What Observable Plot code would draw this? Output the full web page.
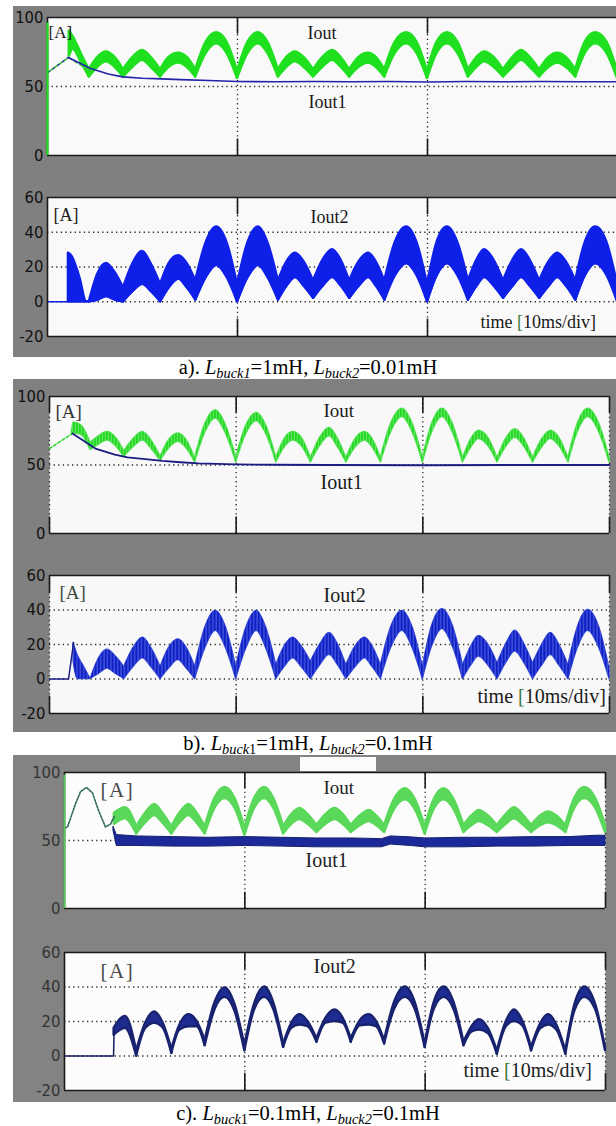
<!DOCTYPE html>
<html>
<head>
<meta charset="utf-8">
<script src="https://cdn.jsdelivr.net/npm/d3@7"></script>
<script src="https://cdn.jsdelivr.net/npm/@observablehq/plot@0.6"></script>
<style>
  html, body { margin: 0; padding: 0; background: #fff; }
  #root { position: relative; width: 616px; height: 1126px; overflow: hidden; background: #fff; }
  .blk { position: absolute; }
  .cap { position: absolute; left: 0; width: 616px; text-align: center; font-family: "Liberation Serif", "Times New Roman", serif; font-size: 20.5px; line-height: 20px; color: #000; white-space: nowrap; }
  .cap sub { font-size: 0.7em; vertical-align: -0.3em; line-height: 0; }
</style>
</head>
<body>
<div id="root"></div>
<script>
// ---------------- DATA (time in ms, 10 ms per division; currents in A) ----------------
// shared vertex times of the rectified-sine humps: trough, shoulder, peak, shoulder, ...
const humpT = [2.2,2.65,3.1,3.55, 4.0,4.5,5.0,5.45, 5.95,6.4,6.9,7.35, 7.8,8.35,8.9,9.45,
  10.0,10.55,11.1,11.6, 12.15,12.6,13.05,13.5, 14.0,14.5,15.0,15.45, 15.9,16.4,16.9,17.3,
  17.75,18.3,18.9,19.45, 20.0,20.5,21.05,21.6, 22.15,22.6,23.0,23.5, 24.0,24.5,24.95,25.4,
  25.9,26.4,26.85,27.3, 27.8,28.3,28.85,29.45, 30.0];

const yTicksTop = [0, 50, 100];
const yTicksBottom = [-20, 0, 20, 40, 60];

// a) Lbuck1 = 1 mH, Lbuck2 = 0.01 mH
const aIoutPreT = [1.15, 1.35, 1.8], aIoutPreHi = [90, 86, 73], aIoutPreLo = [72, 77, 67];
const aIoutHi = [62,71,75,71, 62,71,76,71, 62,71,74,71, 62,82,89,82, 61,82,89,82, 62,71,75,71, 62,71,76,71,
  62,71,74,71, 62,82,89,82, 61,82,89,82, 62,71,75,71, 62,71,76,71, 62,71,74,71, 62,82,89,82, 61];
const aIoutLo = [57,64,68,64, 57,64,69,64, 57,64,67,64, 57,74,81,74, 56,74,81,74, 57,64,68,64, 57,64,69,64,
  57,64,67,64, 57,74,81,74, 56,74,81,74, 57,64,68,64, 57,64,69,64, 57,64,67,64, 57,74,81,74, 56];
const aStartT = [0, 1.1], aStartV = [60, 71];
const aGreenStartT = [0, 1.1, 2.27], aGreenStartV = [60, 71, 61];
const aIout1T = [1.1, 2.27, 3.2, 3.95, 5, 6, 7, 8.5, 10, 12, 14, 16, 18, 20, 22, 24, 26, 28, 30];
const aIout1V = [71, 63, 59, 57, 56, 55.5, 55, 54.3, 53.6, 53.4, 53.6, 53.4, 53.6, 53.3, 53.6, 53.4, 53.6, 53.4, 53.5];
const aI2StartT = [0, 1.1, 1.1], aI2StartV = [0, 0, 28];
const aI2PreT = [1.1, 1.3, 1.7, 2.06], aI2PreHi = [28, 26, 14, 0], aI2PreLo = [0, 0, 0, 0];
const aI2Hi = [0,16,22,17, 8,22,29,22, 10,22,26.5,22, 12,34,43,34, 10,34,43,34, 12,23,28,23, 12,24,30,24,
  12,23,28,23, 12,34,43,34, 10,34,43,34, 12,24,30,24, 12,24,30,24, 12,23,28,23, 12,34,43,34, 10];
const aI2Lo = [0,1,3,1, 0,6,10,6, 0,8,13,8, 1,14,21,14, 0,14,21,14, 1,9,14,9, 2,9,14,9,
  2,9,14,9, 1,15,22,15, 0,15,22,15, 1,9,14,9, 2,9,14,9, 2,9,14,9, 1,15,22,15, 0];

// b) Lbuck1 = 1 mH, Lbuck2 = 0.1 mH
const bIoutPreT = [1.2, 1.3, 1.7], bIoutPreHi = [74, 81, 79], bIoutPreLo = [72, 73, 72];
const bIoutHi = [66,71,74,70, 60,69,74,68, 56,68,73,68, 55,80,90,79, 55,79,88,79, 55,69,74,70, 55,70,77,69,
  55,69,74,69, 55,80,91,80, 55,80,91,80, 55,69,75,70, 55,70,76,70, 55,69,75,70, 55,80,91,80, 55];
const bIoutLo = [61,65,68,64, 56,63,68,62, 53,62,67,62, 52,74,84,73, 52,73,82,73, 52,63,68,64, 52,64,71,63,
  52,63,68,63, 52,74,85,74, 52,74,85,74, 52,63,69,64, 52,64,70,64, 52,63,69,64, 52,74,85,74, 52];
const bStartT = [0, 1.23], bStartV = [62, 73];
const bIout1T = [1.23, 2.46, 3.5, 4.18, 5, 6.05, 7, 8, 9, 10, 12, 15, 20, 25, 30];
const bIout1V = [73, 62, 57.5, 55.5, 54.5, 53, 52, 51.2, 50.8, 50.4, 50.2, 50, 49.8, 50, 50];
const bI2StartT = [0, 1.02, 1.29], bI2StartV = [0, 0, 21];
const bI2PreT = [1.29, 1.5, 1.8], bI2PreHi = [21, 14, 8], bI2PreLo = [10, 0, 0];
const bI2Hi = [0,12,17,13, 7,18,24,18, 7,18,23,18, 7,30,39.5,30, 7,30,39.5,30, 8,19,24,19, 10,20,26.7,20,
  8,19,24,19, 8,30,39.5,30, 7,31,40.5,31, 8,19,25,20, 9,21,28,21, 9,20,26.7,20, 8,30,40,30, 6];
const bI2Lo = [0,3,6,3, 0,7,12,7, 0,6,11,6, 0,18,28,18, 0,18,28,18, 0,7,12,7, 0,8,14,8,
  0,7,12,7, 0,18,28,18, 0,19,29,19, 0,8,13,8, 0,10,16,10, 0,8,14,8, 0,18,28,18, 0];

// c) Lbuck1 = 0.1 mH, Lbuck2 = 0.1 mH
const cStartT = [0, 0.17, 0.61, 0.89, 1.22, 1.55, 1.89, 2.27, 2.55, 2.77];
const cStartV = [59, 60, 77, 86, 89, 85, 72, 60, 62, 68];
const cIoutPreT = [2.77, 3.38], cIoutPreHi = [70, 74], cIoutPreLo = [62, 66];
const cIoutHi = [60,70,76.5,70, 60,70,76.5,70, 60,81,89,81, 59,81,89,81, 60,69,73.5,69, 61,69,73.5,69,
  61,68,72,68, 61,80,88,80, 60,80,88,80, 61,68,72,68, 61,69,74,69, 61,68,71,68, 61,81,89,81, 61];
const cIoutLo = [55,63,68.5,63, 55,63,68.5,63, 55,74,81,74, 54,74,81,74, 55,62,65.5,62, 56,62,65.5,62,
  56,61,64,61, 56,73,80,73, 55,73,80,73, 56,61,64,61, 56,62,66,62, 56,61,63,61, 56,74,81,74, 56];
const cIout1T = [2.72, 2.9, 4, 6, 8, 10, 12, 14, 16, 17.6, 18.1, 19.2, 20, 22, 24, 26, 28, 29.5, 30];
const cIout1Hi = [60, 54, 53, 52.5, 52, 52.5, 52, 51.5, 51.5, 51, 53, 52.3, 51.5, 52, 52, 52.5, 52.5, 53.5, 53.5];
const cIout1Lo = [57, 46, 46, 45.5, 45.5, 46, 45.5, 45, 45, 45, 47, 46, 45, 45, 45.5, 45.5, 46, 46, 46];
const cI2StartT = [0, 2.72, 2.75], cI2StartV = [0, 0, 14];
const cI2PreT = [2.75, 3.38], cI2PreHi = [16, 23], cI2PreLo = [12, 16];
const cI2Hi = [3,19,25.5,19.5, 4,18,24,20, 9,31,39.5,30, 6,30.5,40,31, 7,19,24,20, 10,22,26.7,22,
  10,20.5,24,20, 9,31,40,31, 7,31,40,31, 8,17,21,16, 3,20,26.7,20.6, 5,18.7,24,18, 3,29.6,40,30, 5];
const cI2Lo = [0,16,19,16.5, 1.5,15,17,17, 6,27,34,26, 3,27,34,27, 5,16,18,17, 8,19,20,19,
  8,17.5,18,17, 7,27,34,27, 5,27,34,27, 6,14,15,13, 1,17,20,17.6, 3,15.7,18,15, 1,26,34,27, 3];

// ---------------- helpers ----------------
const serif = `"Liberation Serif", "Times New Roman", serif`;
const narrow = `"Liberation Sans Narrow", "Arial Narrow", "DejaVu Sans Condensed", sans-serif`;
const NS = "http://www.w3.org/2000/svg";
const root = document.getElementById("root");

function rows(t, v) { return t.map((x, i) => ({t: x, v: v[i]})); }
// split the envelope into one piece per hump so each hump is drawn as its own arch
function band(preT, preHi, preLo, start, hi, lo) {
  const g = humpT.slice(start);
  const out = preT.map((t, i) => ({t, hi: preHi[i], lo: preLo[i], z: -1}));
  out.push({t: g[0], hi: hi[0], lo: lo[0], z: -1});
  for (let k = 0; k + 4 < g.length; k += 4)
    for (let j = 0; j <= 4; j++) out.push({t: g[k + j], hi: hi[k + j], lo: lo[k + j], z: k});
  return out;
}
function bandRows(t, hi, lo) { return t.map((x, i) => ({t: x, hi: hi[i], lo: lo[i]})); }
function label(text, dx, dy, size, fill = "#1a1a1a") {
  return Plot.text([text], {text: d => d, frameAnchor: "top-left", dx, dy, textAnchor: "start",
    lineAnchor: "bottom", fontFamily: serif, fontSize: size, fill});
}
const DOT = {stroke: "#2a2a2a", strokeWidth: 1.3, strokeDasharray: "1.3 3.3"};
const SOLID = {stroke: "#1a1a1a", strokeWidth: 1.6};
const ARCH = {x: "t", y1: "lo", y2: "hi", z: "z", curve: "monotone-x"};

function gridMarks(yd, hLines, vLines) {
  const [y0, y1] = yd;
  return [Plot.ruleY(hLines, DOT), Plot.ruleX(vLines, {y1: y0, y2: y1, ...DOT})];
}
function borderMarks(yd, vLines, tickLen, leftSolid) {
  const [y0, y1] = yd;
  const m = [
    Plot.ruleY([y1], SOLID),
    Plot.ruleY([y0], SOLID),
    Plot.ruleX(vLines, {y1: y1, y2: y1 - tickLen, ...SOLID}),
    Plot.ruleX(vLines, {y1: y0, y2: y0 + tickLen, ...SOLID}),
  ];
  if (leftSolid) m.push(Plot.ruleX([0], {y1: y0, y2: y1, ...SOLID}));
  return m;
}

function block(l, t, w, h, bg) {
  const d = document.createElement("div");
  d.className = "blk";
  Object.assign(d.style, {left: l + "px", top: t + "px", width: w + "px", height: h + "px", background: bg});
  root.appendChild(d);
}
function caption(html, top) {
  const d = document.createElement("div");
  d.className = "cap";
  d.style.top = top + "px";
  d.innerHTML = html;
  root.appendChild(d);
}
function panel({L, T, R, B, yd, yt, marks, tickColor = "#111", defs = "", bracketSpacing = 0}) {
  const mt = 10, mb = 10;
  const width = Math.max(603, R + 1 - 13);
  const svg = Plot.plot({
    width, height: B - T + mt + mb,
    marginLeft: L - 13, marginRight: width - (R - 13), marginTop: mt, marginBottom: mb,
    x: {domain: [0, 30], axis: null},
    y: {domain: yd, ticks: yt, tickSize: 0, tickPadding: 4, label: null, tickFormat: d => String(d)},
    style: {background: "transparent", fontFamily: narrow, fontSize: "16.5px", color: tickColor, overflow: "visible", fontStretch: "condensed"},
    marks
  });
  if (defs) {
    const d = document.createElementNS(NS, "defs");
    d.innerHTML = defs;
    svg.insertBefore(d, svg.firstChild);
  }
  svg.querySelectorAll("text").forEach(el => {
    if (el.textContent === "time [10ms/div]") {
      el.textContent = "";
      for (const [s, c] of [["time ", null], ["[", "#3d7a3d"], ["10ms/div]", null]]) {
        const ts = document.createElementNS(NS, "tspan");
        ts.textContent = s;
        if (c) ts.setAttribute("fill", c);
        el.appendChild(ts);
      }
    }
    if (el.textContent === "[A]" && bracketSpacing) el.setAttribute("letter-spacing", bracketSpacing);
  });
  Object.assign(svg.style, {position: "absolute", left: "13px", top: (T - mt) + "px"});
  root.appendChild(svg);
}

// ---------------- backgrounds ----------------
block(13, 6, 603, 351, "#808080");
block(13, 379, 603, 353, "#808080");
block(13, 755, 603, 347, "#838383");
block(300, 757, 76, 14, "#fbfbfb");

// ---------------- a) ----------------
const GA = "#1fe01f", BA = "#0e20e8", BA1 = "#2323a8";
const aIoutRows = band(aIoutPreT, aIoutPreHi, aIoutPreLo, 0, aIoutHi, aIoutLo);
const aI2Rows = band(aI2PreT, aI2PreHi, aI2PreLo, 0, aI2Hi, aI2Lo);
panel({L: 47, T: 17, R: 617, B: 155, yd: [0, 100], yt: yTicksTop, marks: [
  Plot.frame({fill: "#f9f9f9", stroke: "none"}),
  ...gridMarks([0, 100], [50], [10, 20]),
  Plot.areaY(aIoutRows, {...ARCH, fill: GA, stroke: GA, strokeWidth: 2.6, strokeLinejoin: "round"}),
  Plot.line(rows(aStartT, aStartV), {x: "t", y: "v", stroke: BA1, strokeWidth: 1.6, strokeDasharray: "3 3"}),
  Plot.line(rows(aGreenStartT, aGreenStartV), {x: "t", y: "v", stroke: "#3fbf3f", strokeWidth: 1.5, strokeDasharray: "3 3", strokeDashoffset: 3}),
  Plot.line(rows(aIout1T, aIout1V), {x: "t", y: "v", stroke: BA1, strokeWidth: 1.6}),
  ...borderMarks([0, 100], [10, 20], 12, true),
  Plot.ruleX([0], {y1: 0, y2: 96, stroke: GA, strokeWidth: 2.2}),
  label("[A]", 1, 20, 17),
  label("Iout", 260, 21, 18),
  label("Iout1", 261, 90, 18)
]});
panel({L: 47, T: 197, R: 617, B: 336, yd: [-20, 60], yt: yTicksBottom, marks: [
  Plot.frame({fill: "#f9f9f9", stroke: "none"}),
  ...gridMarks([-20, 60], [40, 20, 0], [10, 20]),
  Plot.areaY(aI2Rows, {...ARCH, fill: BA, stroke: BA, strokeWidth: 2.4, strokeLinejoin: "round"}),
  Plot.line(aI2Rows, {x: "t", y: "lo", z: "z", curve: "monotone-x", stroke: BA, strokeWidth: 1.3}),
  Plot.line(rows(aI2StartT, aI2StartV), {x: "t", y: "v", stroke: BA, strokeWidth: 1.5}),
  ...borderMarks([-20, 60], [10, 20], 10, true),
  label("[A]", 6, 23, 18),
  label("Iout2", 263, 25, 18),
  label("time [10ms/div]", 433, 130, 18)
]});

// ---------------- b) ----------------
const GB = "#22d822", BB = "#0f1fc6", BB1 = "#1c1c84";
const stripes = (p) => `<pattern id="${p}G" width="3" height="10" patternUnits="userSpaceOnUse"><rect width="1.8" height="10" fill="${GB}"/></pattern>
<pattern id="${p}B" width="3.4" height="10" patternUnits="userSpaceOnUse"><rect width="2" height="10" fill="${BB}"/></pattern>`;
const bIoutRows = band(bIoutPreT, bIoutPreHi, bIoutPreLo, 0, bIoutHi, bIoutLo);
const bI2Rows = band(bI2PreT, bI2PreHi, bI2PreLo, 0, bI2Hi, bI2Lo);
panel({L: 49, T: 396, R: 609, B: 533, yd: [0, 100], yt: yTicksTop, defs: stripes("s1"), marks: [
  Plot.frame({fill: "#f8f8f8", stroke: "none"}),
  ...gridMarks([0, 100], [50], [0, 10, 20, 30]),
  Plot.areaY(bIoutRows, {...ARCH, fill: "#5fe45f", stroke: "#5fe45f", strokeWidth: 1.6}),
  Plot.areaY(bIoutRows, {...ARCH, fill: "url(#s1G)"}),
  Plot.line(rows(bStartT, bStartV), {x: "t", y: "v", stroke: GB, strokeWidth: 1.4, strokeDasharray: "3 2"}),
  Plot.line(rows(bIout1T, bIout1V), {x: "t", y: "v", stroke: BB1, strokeWidth: 1.8}),
  ...borderMarks([0, 100], [0, 10, 20, 30], 12, false),
  label("[A]", 6, 21, 19, "#333"),
  label("Iout", 274, 20, 19),
  label("Iout1", 271, 92, 20)
]});
panel({L: 49, T: 575, R: 609, B: 713, yd: [-20, 60], yt: yTicksBottom, defs: stripes("s2"), marks: [
  Plot.frame({fill: "#f8f8f8", stroke: "none"}),
  ...gridMarks([-20, 60], [40, 20, 0], [0, 10, 20, 30]),
  Plot.areaY(bI2Rows, {...ARCH, fill: "#3f52d8", stroke: "#3f52d8", strokeWidth: 1.4}),
  Plot.areaY(bI2Rows, {...ARCH, fill: "url(#s2B)"}),
  Plot.line(rows(bI2StartT, bI2StartV), {x: "t", y: "v", stroke: BB1, strokeWidth: 1.5}),
  ...borderMarks([-20, 60], [0, 10, 20, 30], 10, false),
  label("[A]", 10, 23, 19, "#3b4a3b"),
  label("Iout2", 274, 26, 20),
  label("time [10ms/div]", 428, 127, 20)
]});

// ---------------- c) ----------------
const GC = "#5ad85a", BC = "#1b2a98", BC2 = "#1e2c92";
const cIoutRows = band(cIoutPreT, cIoutPreHi, cIoutPreLo, 4, cIoutHi, cIoutLo);
const cI2Rows = band(cI2PreT, cI2PreHi, cI2PreLo, 4, cI2Hi, cI2Lo);
panel({L: 64, T: 772, R: 605, B: 908, yd: [0, 100], yt: yTicksTop, tickColor: "#333", bracketSpacing: 1.5, marks: [
  Plot.frame({fill: "#fcfcfc", stroke: "none"}),
  ...gridMarks([0, 100], [50], [10, 20, 30]),
  Plot.areaY(cIoutRows, {...ARCH, fill: GC, stroke: GC, strokeWidth: 2.6, strokeLinejoin: "round"}),
  Plot.areaY(bandRows(cIout1T, cIout1Hi, cIout1Lo), {x: "t", y1: "lo", y2: "hi", fill: BC, stroke: "#14206e", strokeWidth: 1}),
  Plot.line(rows(cStartT, cStartV), {x: "t", y: "v", stroke: "#2e6a5e", strokeWidth: 1.6, strokeDasharray: "2 1.5"}),
  ...borderMarks([0, 100], [10, 20, 30], 12, true),
  Plot.ruleX([0], {y1: 0, y2: 98, stroke: "#5cc85c", strokeWidth: 2}),
  label("[A]", 36, 24, 21, "#4a4a4a"),
  label("Iout", 259, 21, 19, "#222"),
  label("Iout1", 241, 94, 20, "#222")
]});
panel({L: 64, T: 952, R: 605, B: 1090, yd: [-20, 60], yt: yTicksBottom, tickColor: "#333", bracketSpacing: 1.5, marks: [
  Plot.frame({fill: "#fcfcfc", stroke: "none"}),
  ...gridMarks([-20, 60], [40, 20, 0], [10, 20, 30]),
  Plot.areaY(cI2Rows, {...ARCH, fill: BC2, stroke: "#18226e", strokeWidth: 2.4, strokeLinejoin: "round"}),
  Plot.line(rows(cI2StartT, cI2StartV), {x: "t", y: "v", stroke: "#141c60", strokeWidth: 1.5}),
  ...borderMarks([-20, 60], [10, 20, 30], 10, true),
  label("[A]", 36, 25, 21, "#4a4a4a"),
  label("Iout2", 249, 20, 20, "#222"),
  label("time [10ms/div]", 399, 124, 20, "#222")
]});

// ---------------- captions ----------------
caption('a). <i>L<sub>buck1</sub></i>=1mH, <i>L<sub>buck2</sub></i>=0.01mH', 357);
caption('b). <i>L</i><sub><i>buck</i>1</sub>=1mH, <i>L<sub>buck2</sub></i>=0.1mH', 733);
caption('c). <i>L</i><sub><i>buck</i>1</sub>=0.1mH, <i>L<sub>buck2</sub></i>=0.1mH', 1103);
</script>
</body>
</html>
